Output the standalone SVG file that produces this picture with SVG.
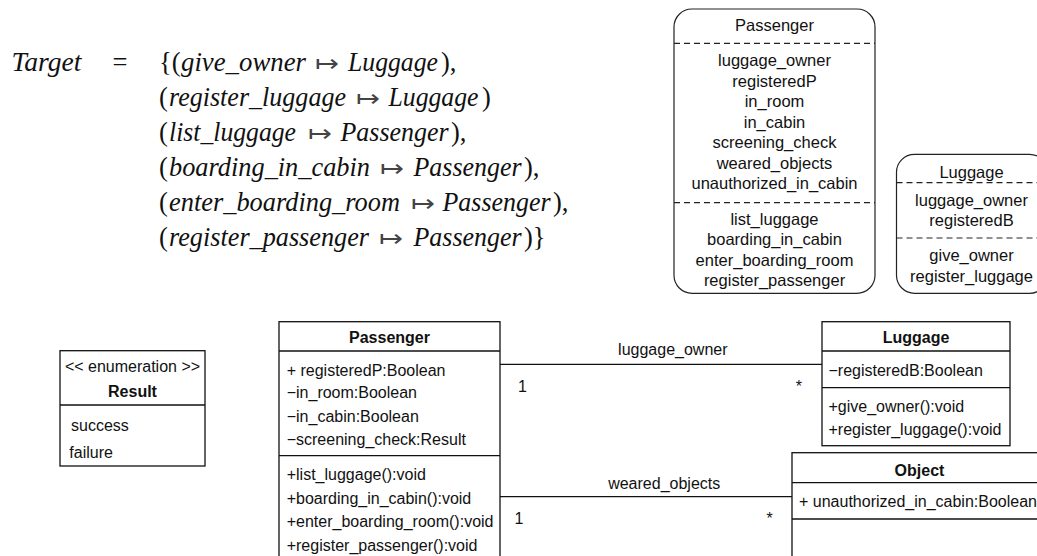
<svg xmlns="http://www.w3.org/2000/svg" width="1037" height="556" viewBox="0 0 1037 556">
<style>
  .m { font-family: "Liberation Serif", "DejaVu Serif", serif; font-size: 26.5px; fill: #111; }
  .it { font-style: italic; }
  .ar { font-family: "DejaVu Sans", sans-serif; font-weight: 200; font-size: 22px; fill: #444; text-anchor: middle; }
  .t { font-family: "Liberation Sans", Arial, sans-serif; font-size: 16px; fill: #111; }
  .s { font-size: 16.5px; }
  .c { text-anchor: middle; }
  .b { font-weight: bold; }
  .box { fill: #fff; stroke: #111; stroke-width: 1.3; }
  .ln { stroke: #111; stroke-width: 1.3; fill: none; }
  .rbox { fill: #fff; stroke: #222; stroke-width: 1.2; }
  .dash { stroke: #222; stroke-width: 1.2; stroke-dasharray: 6 4; fill: none; }
</style>
<rect width="1037" height="556" fill="#fff"/>

<g id="formula">
  <text class="m it" x="11.5" y="71" textLength="70" lengthAdjust="spacingAndGlyphs">Target</text>
  <text class="m c" x="120" y="71">=</text>

  <text class="m" x="159" y="71">{(</text>
  <text class="m it" x="181" y="71" textLength="125" lengthAdjust="spacingAndGlyphs">give_owner</text>
  <text class="ar" transform="translate(327.5,71) scale(1.3,1)">↦</text>
  <text class="m it" x="348" y="71" textLength="90" lengthAdjust="spacingAndGlyphs">Luggage</text>
  <text class="m" x="441" y="71">),</text>

  <text class="m" x="159" y="106">(</text>
  <text class="m it" x="169" y="106" textLength="177" lengthAdjust="spacingAndGlyphs">register_luggage</text>
  <text class="ar" transform="translate(368.3,106) scale(1.3,1)">↦</text>
  <text class="m it" x="388.5" y="106" textLength="90" lengthAdjust="spacingAndGlyphs">Luggage</text>
  <text class="m" x="482" y="106">)</text>

  <text class="m" x="159" y="141">(</text>
  <text class="m it" x="169" y="141" textLength="127" lengthAdjust="spacingAndGlyphs">list_luggage</text>
  <text class="ar" transform="translate(320.2,141) scale(1.3,1)">↦</text>
  <text class="m it" x="340.5" y="141" textLength="108" lengthAdjust="spacingAndGlyphs">Passenger</text>
  <text class="m" x="451" y="141">),</text>

  <text class="m" x="159" y="176">(</text>
  <text class="m it" x="169" y="176" textLength="201" lengthAdjust="spacingAndGlyphs">boarding_in_cabin</text>
  <text class="ar" transform="translate(392.3,176) scale(1.3,1)">↦</text>
  <text class="m it" x="413.5" y="176" textLength="108" lengthAdjust="spacingAndGlyphs">Passenger</text>
  <text class="m" x="524" y="176">),</text>

  <text class="m" x="159" y="211">(</text>
  <text class="m it" x="169" y="211" textLength="231" lengthAdjust="spacingAndGlyphs">enter_boarding_room</text>
  <text class="ar" transform="translate(423,211) scale(1.3,1)">↦</text>
  <text class="m it" x="442.5" y="211" textLength="108" lengthAdjust="spacingAndGlyphs">Passenger</text>
  <text class="m" x="553" y="211">),</text>

  <text class="m" x="159" y="246">(</text>
  <text class="m it" x="169" y="246" textLength="200" lengthAdjust="spacingAndGlyphs">register_passenger</text>
  <text class="ar" transform="translate(391.3,246) scale(1.3,1)">↦</text>
  <text class="m it" x="413.5" y="246" textLength="108" lengthAdjust="spacingAndGlyphs">Passenger</text>
  <text class="m" x="524" y="246">)}</text>
</g>

<g id="passenger-summary">
  <rect class="rbox" x="674" y="9" width="201" height="284.3" rx="18" ry="18"/>
  <line class="dash" x1="674" y1="43.3" x2="875" y2="43.3"/>
  <line class="dash" x1="674" y1="202.7" x2="875" y2="202.7"/>
  <text class="t s c" x="774.5" y="31">Passenger</text>
  <text class="t s c" x="774.5" y="66">luggage_owner</text>
  <text class="t s c" x="774.5" y="86.5">registeredP</text>
  <text class="t s c" x="774.5" y="107">in_room</text>
  <text class="t s c" x="774.5" y="127.5">in_cabin</text>
  <text class="t s c" x="774.5" y="148">screening_check</text>
  <text class="t s c" x="774.5" y="168.5">weared_objects</text>
  <text class="t s c" x="774.5" y="189">unauthorized_in_cabin</text>
  <text class="t s c" x="774.5" y="224.5">list_luggage</text>
  <text class="t s c" x="774.5" y="245">boarding_in_cabin</text>
  <text class="t s c" x="774.5" y="265.5">enter_boarding_room</text>
  <text class="t s c" x="774.5" y="286">register_passenger</text>
</g>

<g id="luggage-summary">
  <rect class="rbox" x="896.5" y="154.3" width="151" height="139" rx="18" ry="18"/>
  <line class="dash" x1="896.5" y1="182.7" x2="1047" y2="182.7"/>
  <line class="dash" x1="896.5" y1="238" x2="1047" y2="238"/>
  <text class="t s c" x="971.5" y="177.5">Luggage</text>
  <text class="t s c" x="971.5" y="205.5">luggage_owner</text>
  <text class="t s c" x="971.5" y="225.5">registeredB</text>
  <text class="t s c" x="971.5" y="260.5">give_owner</text>
  <text class="t s c" x="971.5" y="281.5">register_luggage</text>
</g>

<g id="connectors">
  <line class="ln" x1="500" y1="364.3" x2="822" y2="364.3"/>
  <text class="t c" x="672.8" y="355">luggage_owner</text>
  <text class="t c" x="522.4" y="391.5">1</text>
  <text class="t c" x="798.8" y="391.5">*</text>
  <line class="ln" x1="500" y1="496.7" x2="793" y2="496.7"/>
  <text class="t c" x="664.2" y="488.5">weared_objects</text>
  <text class="t c" x="518.9" y="523.5">1</text>
  <text class="t c" x="769.5" y="523.5">*</text>
</g>

<g id="result-enum">
  <rect class="box" x="60" y="350.7" width="145" height="115.3"/>
  <line class="ln" x1="60" y1="405" x2="205" y2="405"/>
  <text class="t c" x="132.5" y="372">&lt;&lt; enumeration &gt;&gt;</text>
  <text class="t c b" x="132.5" y="397">Result</text>
  <text class="t" x="71" y="431">success</text>
  <text class="t" x="69.3" y="458">failure</text>
</g>

<g id="passenger-class">
  <rect class="box" x="279" y="321.7" width="221" height="245"/>
  <line class="ln" x1="279" y1="351" x2="500" y2="351"/>
  <line class="ln" x1="279" y1="455.7" x2="500" y2="455.7"/>
  <text class="t c b" x="389.5" y="343">Passenger</text>
  <text class="t" x="286.7" y="375.5">+ registeredP:Boolean</text>
  <text class="t" x="286.7" y="398">−in_room:Boolean</text>
  <text class="t" x="286.7" y="422">−in_cabin:Boolean</text>
  <text class="t" x="286.7" y="445">−screening_check:Result</text>
  <text class="t" x="286.7" y="479.5">+list_luggage():void</text>
  <text class="t" x="286.7" y="503.5">+boarding_in_cabin():void</text>
  <text class="t" x="286.7" y="526.5">+enter_boarding_room():void</text>
  <text class="t" x="286.7" y="550.5">+register_passenger():void</text>
</g>

<g id="luggage-class">
  <rect class="box" x="822" y="321.7" width="188" height="124"/>
  <line class="ln" x1="822" y1="351" x2="1010" y2="351"/>
  <line class="ln" x1="822" y1="387.7" x2="1010" y2="387.7"/>
  <text class="t c b" x="916" y="343">Luggage</text>
  <text class="t" x="828.5" y="375.5">−registeredB:Boolean</text>
  <text class="t" x="828.5" y="412">+give_owner():void</text>
  <text class="t" x="828.5" y="434.5">+register_luggage():void</text>
</g>

<g id="object-class">
  <rect class="box" x="792" y="452.7" width="260" height="120"/>
  <line class="ln" x1="792" y1="482.7" x2="1052" y2="482.7"/>
  <line class="ln" x1="792" y1="519" x2="1052" y2="519"/>
  <text class="t c b" x="919.5" y="475.5">Object</text>
  <text class="t" x="799" y="507">+ unauthorized_in_cabin:Boolean</text>
</g>
</svg>
